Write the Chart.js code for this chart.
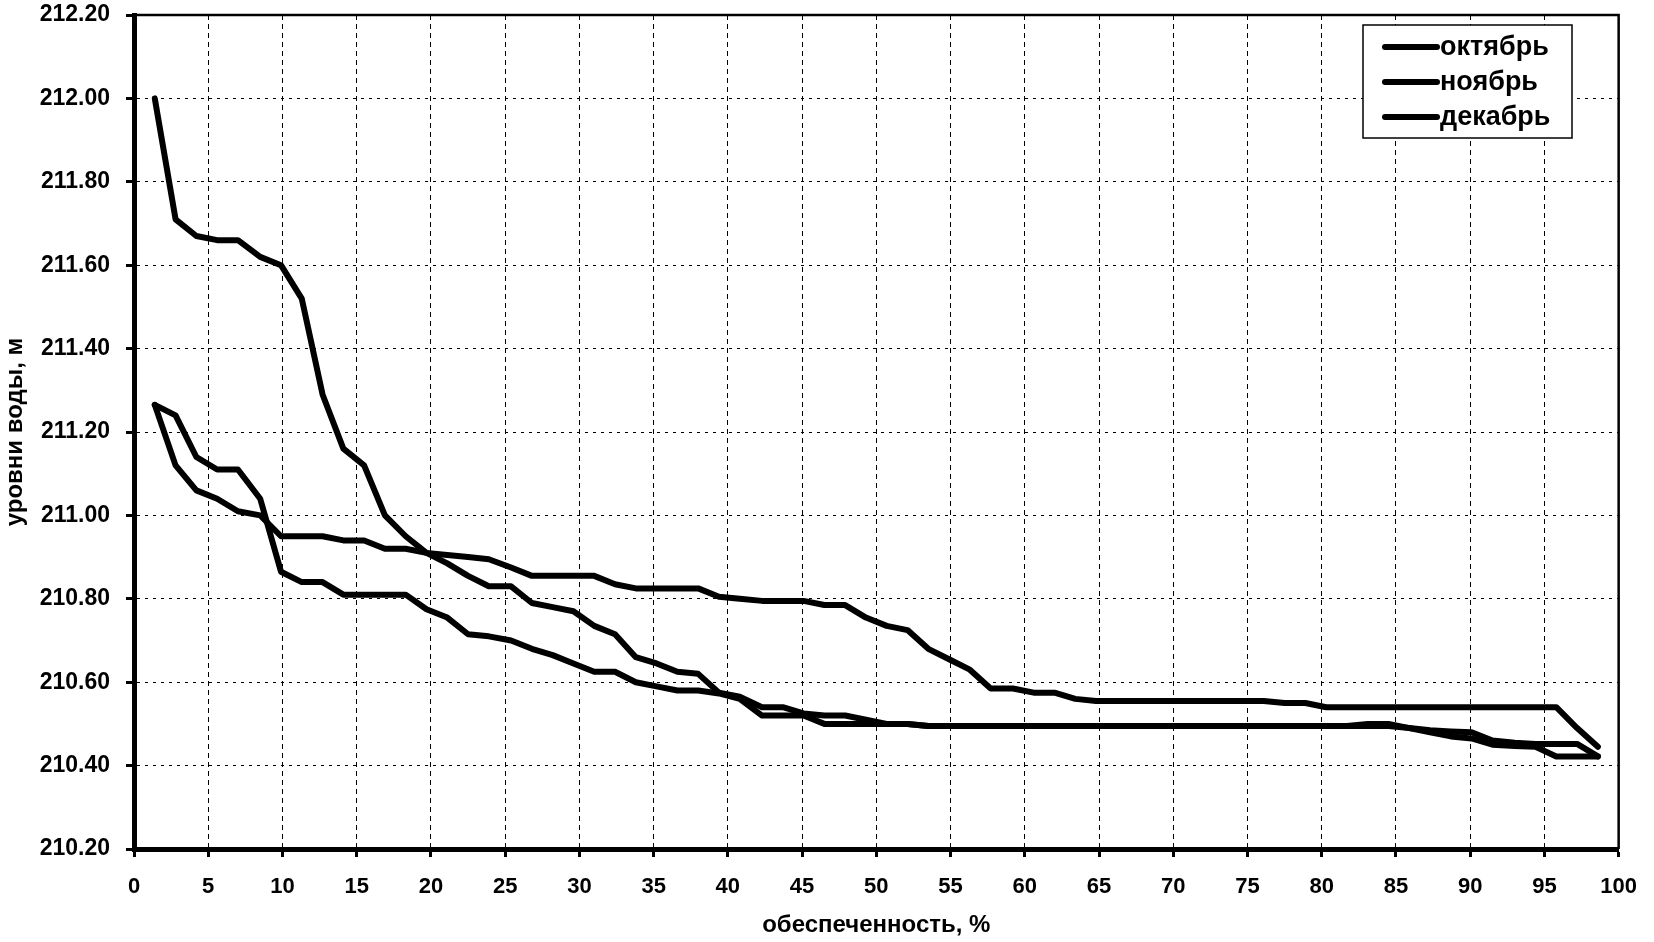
<!DOCTYPE html>
<html lang="ru">

<head>
    <meta charset="UTF-8">
    <title>Уровни воды</title>
    <script src="https://cdn.jsdelivr.net/npm/chart.js"></script>
    <style>
        html, body { margin: 0; padding: 0; background: #fff; }
        #wrap { width: 1654px; height: 942px; }
    </style>
</head>

<body>
    <div id="wrap"><canvas id="levels" width="1654" height="942"></canvas></div>

    <script>
        // обеспеченность, % (70 членов ряда)
        const obesp = [1.4, 2.8, 4.2, 5.6, 7.0, 8.5, 9.9, 11.3, 12.7, 14.1, 15.5, 16.9, 18.3, 19.7,
            21.1, 22.5, 23.9, 25.4, 26.8, 28.2, 29.6, 31.0, 32.4, 33.8, 35.2, 36.6, 38.0, 39.4,
            40.8, 42.3, 43.7, 45.1, 46.5, 47.9, 49.3, 50.7, 52.1, 53.5, 54.9, 56.3, 57.7, 59.2,
            60.6, 62.0, 63.4, 64.8, 66.2, 67.6, 69.0, 70.4, 71.8, 73.2, 74.6, 76.1, 77.5, 78.9,
            80.3, 81.7, 83.1, 84.5, 85.9, 87.3, 88.7, 90.1, 91.5, 93.0, 94.4, 95.8, 97.2, 98.6];

        const october = [212.00, 211.71, 211.67, 211.66, 211.66, 211.62, 211.60,
            211.52, 211.29, 211.16, 211.12, 211.00, 210.95, 210.91,
            210.885, 210.855, 210.83, 210.83, 210.79, 210.78, 210.77,
            210.735, 210.715, 210.66, 210.645, 210.625, 210.62, 210.575,
            210.565, 210.54, 210.54, 210.525, 210.52, 210.52, 210.51,
            210.50, 210.50, 210.495, 210.495, 210.495, 210.495, 210.495,
            210.495, 210.495, 210.495, 210.495, 210.495, 210.495, 210.495,
            210.495, 210.495, 210.495, 210.495, 210.495, 210.495, 210.495,
            210.495, 210.495, 210.50, 210.50, 210.49, 210.485, 210.482,
            210.48, 210.46, 210.455, 210.452, 210.452, 210.452, 210.422];

        const november = [211.265, 211.24, 211.14, 211.11, 211.11, 211.04, 210.865,
            210.84, 210.84, 210.81, 210.81, 210.81, 210.81, 210.775,
            210.755, 210.715, 210.71, 210.70, 210.68, 210.665, 210.645,
            210.625, 210.625, 210.60, 210.59, 210.58, 210.58, 210.573,
            210.56, 210.52, 210.52, 210.52, 210.50, 210.50, 210.50,
            210.50, 210.50, 210.495, 210.495, 210.495, 210.495, 210.495,
            210.495, 210.495, 210.495, 210.495, 210.495, 210.495, 210.495,
            210.495, 210.495, 210.495, 210.495, 210.495, 210.495, 210.495,
            210.495, 210.495, 210.495, 210.495, 210.49, 210.48, 210.47,
            210.465, 210.45, 210.447, 210.445, 210.422, 210.422, 210.422];

        const december = [211.265, 211.12, 211.06, 211.04, 211.01, 211.00, 210.95,
            210.95, 210.95, 210.94, 210.94, 210.92, 210.92, 210.91,
            210.905, 210.90, 210.895, 210.875, 210.855, 210.855, 210.855,
            210.855, 210.835, 210.825, 210.825, 210.825, 210.825, 210.805,
            210.80, 210.795, 210.795, 210.795, 210.785, 210.785, 210.755,
            210.735, 210.725, 210.68, 210.655, 210.63, 210.585, 210.585,
            210.575, 210.575, 210.56, 210.555, 210.555, 210.555, 210.555,
            210.555, 210.555, 210.555, 210.555, 210.555, 210.55, 210.55,
            210.54, 210.54, 210.54, 210.54, 210.54, 210.54, 210.54,
            210.54, 210.54, 210.54, 210.54, 210.54, 210.49, 210.445];

        const seriesNames = ['октябрь', 'ноябрь', 'декабрь'];
        const seriesValues = [october, november, december];

        const FONT = '"Liberation Sans", Arial, sans-serif';
        Chart.defaults.font.family = FONT;
        Chart.defaults.font.weight = 'bold';
        Chart.defaults.color = '#000';

        // thin top / right frame of the plot area
        const frame = {
            id: 'frame',
            afterDatasetsDraw(chart) {
                const { ctx, chartArea: a } = chart;
                ctx.save();
                ctx.strokeStyle = '#000';
                ctx.lineWidth = 2.5;
                ctx.beginPath();
                ctx.moveTo(a.left, a.top);
                ctx.lineTo(a.right, a.top);
                ctx.lineTo(a.right, a.bottom);
                ctx.stroke();
                ctx.restore();
            }
        };

        // legend box drawn inside the plot, top right
        const boxLegend = {
            id: 'boxLegend',
            afterDraw(chart) {
                const { ctx } = chart;
                const x = 1363, y = 25, w = 209, h = 113;
                ctx.save();
                ctx.fillStyle = '#fff';
                ctx.fillRect(x, y, w, h);
                ctx.strokeStyle = '#000';
                ctx.lineWidth = 1.5;
                ctx.strokeRect(x, y, w, h);
                ctx.font = 'bold 27px ' + FONT;
                ctx.textBaseline = 'middle';
                ctx.fillStyle = '#000';
                chart.data.datasets.forEach((ds, i) => {
                    const ly = y + 22 + i * 35;
                    ctx.lineWidth = 6;
                    ctx.lineCap = 'round';
                    ctx.beginPath();
                    ctx.moveTo(x + 22, ly);
                    ctx.lineTo(x + 74, ly);
                    ctx.stroke();
                    ctx.fillText(ds.label, x + 77, ly + 1);
                });
                ctx.restore();
            }
        };

        const datasets = seriesNames.map((name, i) => ({
            label: name,
            data: obesp.map((p, j) => ({ x: p, y: seriesValues[i][j] })),
            borderColor: '#000',
            backgroundColor: '#000',
            borderWidth: 6,
            borderJoinStyle: 'round',
            borderCapStyle: 'round',
            pointRadius: 0,
            tension: 0,
            fill: false
        }));

        new Chart(document.getElementById('levels'), {
            type: 'line',
            data: { datasets },
            options: {
                responsive: false,
                animation: false,
                layout: { padding: { left: 0, top: 0, right: 32, bottom: 0 } },
                plugins: {
                    legend: { display: false },
                    tooltip: { enabled: false }
                },
                scales: {
                    x: {
                        type: 'linear',
                        min: 0,
                        max: 100,
                        afterFit(scale) { scale.height = 93; },
                        ticks: {
                            stepSize: 5,
                            padding: 17,
                            font: { size: 22, weight: 'bold' }
                        },
                        grid: {
                            color: '#000',
                            lineWidth: 1,
                            tickLength: 8,
                            tickWidth: 3,
                            tickColor: '#000'
                        },
                        border: { display: true, color: '#000', width: 5, dash: [5, 4] },
                        title: {
                            display: true,
                            text: 'обеспеченность, %',
                            font: { size: 24, weight: 'bold' },
                            padding: { top: 0, bottom: 2 }
                        }
                    },
                    y: {
                        min: 210.2,
                        max: 212.2,
                        afterFit(scale) {
                            scale.width = 134;
                            scale.paddingTop = 15;
                        },
                        ticks: {
                            stepSize: 0.2,
                            padding: 16,
                            font: { size: 23, weight: 'bold' },
                            callback: v => v.toFixed(2)
                        },
                        grid: {
                            color: '#000',
                            lineWidth: 1,
                            tickLength: 8,
                            tickWidth: 3,
                            tickColor: '#000'
                        },
                        border: { display: true, color: '#000', width: 5, dash: [3, 5] },
                        title: {
                            display: true,
                            text: 'уровни воды, м',
                            font: { size: 24, weight: 'bold' },
                            padding: { top: 1, bottom: 0 }
                        }
                    }
                }
            },
            plugins: [frame, boxLegend]
        });
    </script>
</body>

</html>
